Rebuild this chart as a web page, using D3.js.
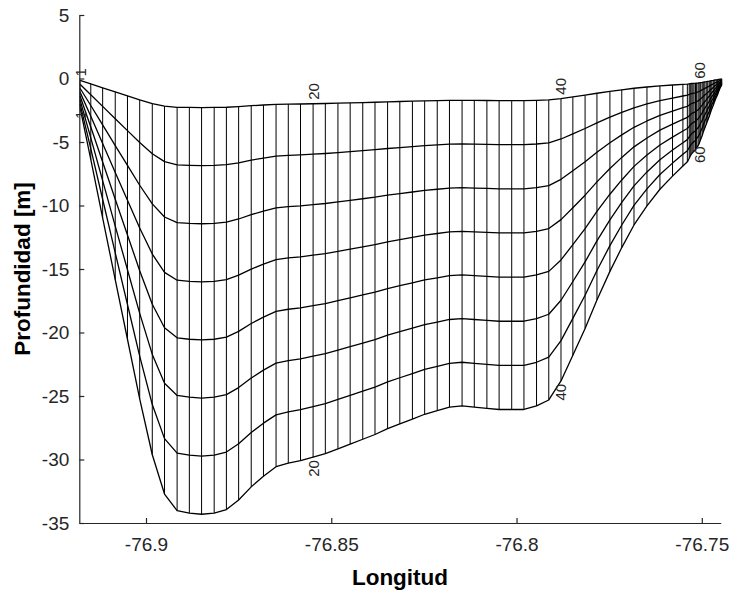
<!DOCTYPE html>
<html>
<head>
<meta charset="utf-8">
<script src="https://cdn.jsdelivr.net/npm/d3@7"></script>
<style>
  html, body { margin: 0; padding: 0; background: #fff; }
  svg { display: block; }
</style>
</head>
<body>
<svg id="chart" width="732" height="592"></svg>
<script>
// Grid column longitudes (one per grid column, 1..76)
const lon = [
  -76.9178, -76.9149, -76.9117, -76.9083, -76.9050, -76.9017, -76.8983, -76.8950, -76.8916, -76.8883,
  -76.8850, -76.8816, -76.8783, -76.8750, -76.8716, -76.8683, -76.8649, -76.8616, -76.8583, -76.8549,
  -76.8516, -76.8482, -76.8449, -76.8415, -76.8382, -76.8348, -76.8315, -76.8281, -76.8248, -76.8214,
  -76.8181, -76.8147, -76.8114, -76.8080, -76.8047, -76.8013, -76.7980, -76.7946, -76.7913, -76.7880,
  -76.7848, -76.7815, -76.7783, -76.7748, -76.7716, -76.7683, -76.7648, -76.7613, -76.7579, -76.7551,
  -76.7539, -76.7534, -76.7531, -76.7527, -76.7524, -76.7521, -76.7517, -76.7514, -76.7510, -76.7507,
  -76.7503, -76.7499, -76.7496, -76.7492, -76.7488, -76.7484, -76.7480, -76.7477, -76.7473, -76.7469,
  -76.7465, -76.7461, -76.7458, -76.7454, -76.7450, -76.7446
];
// Bathymetry h [m] at each column
const h = [
  2.45, 6.8, 11.7, 16.9, 21.9, 26.9, 31.6, 34.9, 36.3, 36.5,
  36.6, 36.5, 36.2, 35.4, 34.3, 33.4, 32.6, 32.3, 32.1, 31.8,
  31.5, 31.1, 30.7, 30.3, 29.9, 29.4, 29.0, 28.6, 28.2, 27.9,
  27.6, 27.5, 27.6, 27.7, 27.8, 27.8, 27.8, 27.5, 27.0, 25.4,
  23.25, 21.0, 18.6, 16.2, 14.2, 12.3, 10.7, 9.3, 8.2, 7.35,
  7.0, 6.7, 6.5, 6.3, 6.2, 6.1, 6.0, 5.8, 5.65, 5.45,
  5.1, 4.8, 4.5, 4.15, 3.85, 3.5, 3.2, 2.9, 2.55, 2.25,
  1.9, 1.6, 1.4, 1.05, 0.75, 0.55
];
// Vertical s-levels (rho points), bottom to top
const sRho = [-0.9375, -0.8125, -0.6875, -0.5625, -0.4375, -0.3125, -0.1875, -0.0625];
const labeledCols = [1, 20, 40, 60];
const xTicks = [-76.9, -76.85, -76.8, -76.75];
const yTicks = [-35, -30, -25, -20, -15, -10, -5, 0, 5];
const xLabel = "Longitud";
const yLabel = "Profundidad [m]";

const svg = d3.select("#chart");
const x = d3.scaleLinear().domain([-76.918, -76.7449]).range([79.3, 720.7]);
const y = d3.scaleLinear().domain([-35, 5]).range([523, 15]);

const grid = svg.append("g");
const sTop = sRho[sRho.length - 1], sBot = sRho[0];

// vertical grid lines (columns)
grid.selectAll("line.col").data(lon).enter().append("line")
  .attr("class", "col")
  .attr("x1", d => x(d)).attr("x2", d => x(d))
  .attr("y1", (d, i) => y(h[i] * sTop))
  .attr("y2", (d, i) => y(h[i] * sBot))
  .attr("stroke", "#000").attr("stroke-width", 1);

// horizontal grid lines (s-levels)
const line = d3.line().x(d => x(d[0])).y(d => y(d[1]));
grid.selectAll("path.row").data(sRho).enter().append("path")
  .attr("class", "row")
  .attr("d", s => line(lon.map((l, i) => [l, h[i] * s])))
  .attr("fill", "none").attr("stroke", "#000").attr("stroke-width", 1.3)
  .attr("stroke-linejoin", "round");

// column index labels
const lab = svg.append("g").attr("font-family", "'Liberation Sans', Arial, sans-serif")
  .attr("font-size", 15).attr("fill", "#262626");
labeledCols.forEach(c => {
  const i = c - 1;
  const cx = x(lon[i]);
  lab.append("text")
    .attr("transform", `translate(${cx},${y(h[i] * sTop) - 4}) rotate(-90)`)
    .attr("text-anchor", "start").attr("dominant-baseline", "central")
    .text(c);
  lab.append("text")
    .attr("transform", `translate(${cx},${y(h[i] * sBot) + 3}) rotate(-90)`)
    .attr("text-anchor", "end").attr("dominant-baseline", "central")
    .text(c);
});

// axes
const fmt = d => String(d);
const xAxis = d3.axisBottom(x).tickValues(xTicks).tickFormat(fmt)
  .tickSizeInner(-5).tickSizeOuter(0).tickPadding(15);
const yAxis = d3.axisLeft(y).tickValues(yTicks).tickFormat(fmt)
  .tickSizeInner(-5).tickSizeOuter(0).tickPadding(10);

const gx = svg.append("g").attr("transform", "translate(0,523)").call(xAxis);
const gy = svg.append("g").attr("transform", "translate(79.3,0)").call(yAxis);
[gx, gy].forEach(g => {
  g.select(".domain").attr("stroke", "#262626").attr("stroke-width", 1.2);
  g.selectAll(".tick line").attr("stroke", "#262626").attr("stroke-width", 1.2);
  g.selectAll(".tick text").attr("fill", "#262626")
    .attr("font-family", "'Liberation Sans', Arial, sans-serif").attr("font-size", 19);
});

svg.append("text").attr("x", 400).attr("y", 585)
  .attr("text-anchor", "middle")
  .attr("font-family", "'Liberation Sans', Arial, sans-serif")
  .attr("font-weight", "bold").attr("font-size", 22.5).attr("fill", "#000")
  .text(xLabel);
svg.append("text")
  .attr("transform", "translate(30,269) rotate(-90)")
  .attr("text-anchor", "middle")
  .attr("font-family", "'Liberation Sans', Arial, sans-serif")
  .attr("font-weight", "bold").attr("font-size", 22.5).attr("fill", "#000")
  .text(yLabel);
</script>
</body>
</html>
